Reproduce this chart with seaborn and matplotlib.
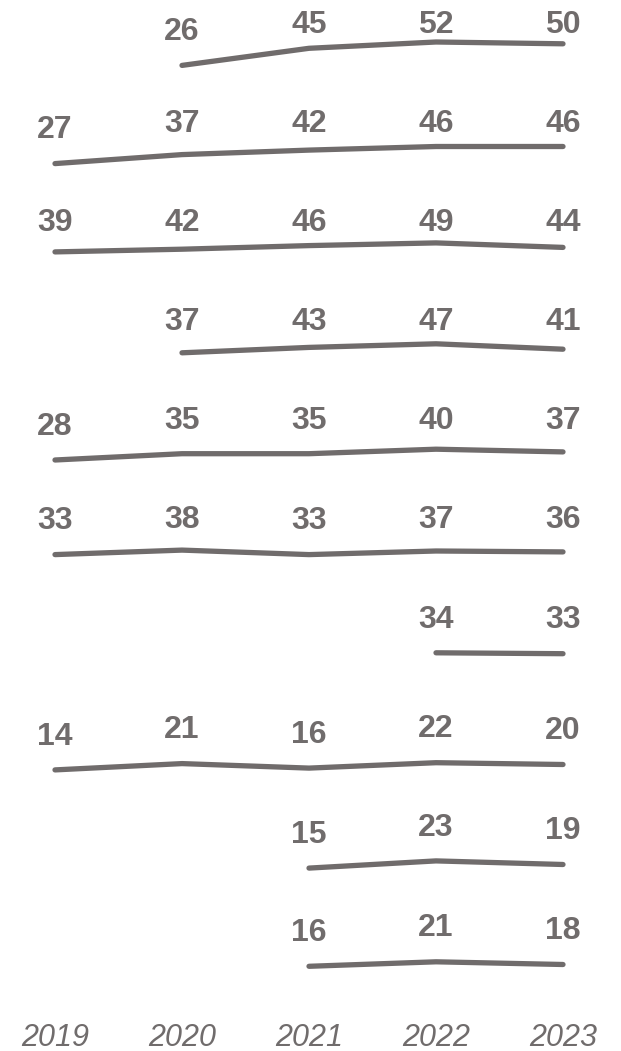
import matplotlib
matplotlib.use('Agg')
import matplotlib.pyplot as plt
import seaborn as sns
import numpy as np
import pandas as pd

# one list per row of the chart, top to bottom (nan = no value that year)
years = [2019, 2020, 2021, 2022, 2023]
row1 = [np.nan, 26, 45, 52, 50]
row2 = [27, 37, 42, 46, 46]
row3 = [39, 42, 46, 49, 44]
row4 = [np.nan, 37, 43, 47, 41]
row5 = [28, 35, 35, 40, 37]
row6 = [33, 38, 33, 37, 36]
row7 = [np.nan, np.nan, np.nan, 34, 33]
row8 = [14, 21, 16, 22, 20]
row9 = [np.nan, np.nan, 15, 23, 19]
row10 = [np.nan, np.nan, 16, 21, 18]
rows = [row1, row2, row3, row4, row5, row6, row7, row8, row9, row10]

sns.set_style('white')
plt.rcParams['font.family'] = ['Liberation Sans', 'DejaVu Sans']

grey = '#706c6c'
W, H = 621, 1051
fig = plt.figure(figsize=(W / 100, H / 100), dpi=100)

# layout in pixels
px_per_unit = 0.9
pitch = 99.1
first_base = 88.8
x_left = 2019 - 55 / 127
x_right = 2019 + (W - 55) / 127

for i, vals in enumerate(rows):
    base = first_base + pitch * i
    bottom_px = base + 10
    ax = fig.add_axes([0, 1 - bottom_px / H, 1, pitch / H])
    ax.set_facecolor('none')
    df = pd.DataFrame({'year': years, 'value': vals}).dropna()
    sns.lineplot(data=df, x='year', y='value', ax=ax, color=grey, lw=3.8,
                 solid_capstyle='round')
    # labels float above the line but stop at the top of the row
    for x, v in zip(df['year'], df['value']):
        ax.text(x, min(v + 37, 71), f'{v:.0f}', ha='center', va='center',
                fontsize=23, fontweight='bold', color=grey)
    ax.set_ylim(-10 / px_per_unit, (pitch - 10) / px_per_unit)
    ax.set_xlim(x_left, x_right)
    ax.set_xlabel('')
    ax.set_ylabel('')
    ax.set_yticks([])
    sns.despine(ax=ax, left=True, bottom=True)
    if i == len(rows) - 1:
        ax.set_xticks(years)
        ax.set_xticklabels([str(y) for y in years], fontsize=22, style='italic', color=grey)
        ax.tick_params(axis='x', length=0, pad=23)
    else:
        ax.set_xticks([])

fig.savefig('out.png', dpi=100)
